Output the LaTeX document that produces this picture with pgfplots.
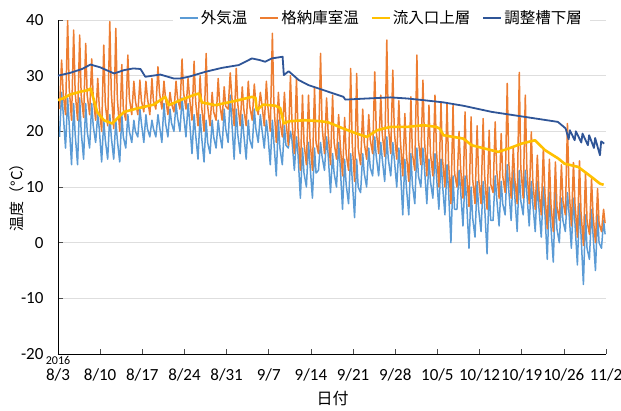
\documentclass[border=0pt]{standalone}
\usepackage{pgfplots}
\pgfplotsset{compat=1.18}
\usepackage{pgfplotstable}
\usepackage{fontspec}
\setmainfont{Carlito}
\newfontfamily\jp{Noto Sans CJK JP}
\definecolor{cOut}{HTML}{5B9BD5}
\definecolor{cRoom}{HTML}{ED7D31}
\definecolor{cIn}{HTML}{FFC000}
\definecolor{cTank}{HTML}{2F5597}

% t = days since 8/3 ; outside = 外気温 ; room = 格納庫室温
\pgfplotstableread{
t outside room
0.25 19 24
0.6 27 32.8
0.85 23.5 27
1.25 17 23
1.6 26 40
1.85 21.5 28
2.25 14 22
2.6 25 38.2
2.85 19.5 27
3.25 14 22
3.6 26 37.3
3.85 20 26.5
4.25 15 22.5
4.6 25 35.8
4.85 20 26.5
5.25 17 23
5.6 25 33
5.85 21 26
6.25 18 22
6.6 23 29.5
6.85 20.5 24.5
7.25 14.5 20
7.6 22 35.5
7.85 18.5 25
8.25 15 21
8.6 23 39.7
8.85 19 27
9.25 15 20.5
9.6 22 38.5
9.85 18.5 26
10.25 14.5 20
10.6 23 32
10.85 19 24
11.25 17 22
11.6 23 33.7
11.85 20 26
12.25 18 23
12.6 22 29
12.85 20 25.5
13.25 19 23
13.6 24 29.2
13.85 21.5 25.5
14.25 18 23.5
14.6 23 29
14.85 20.5 26
15.25 19 23
15.6 22 29.5
15.85 20.5 25.5
16.25 19 24
16.6 23 31.6
16.85 21 27
17.25 18 24
17.6 25 29
17.85 21.5 26
18.25 19 23
18.6 24 27
18.85 21.5 25
19.25 20 23.5
19.6 25 29
19.85 22.5 26
20.25 20 24
20.6 26 33
20.85 23 27
21.25 19 24
21.6 25 29.5
21.85 22 26
22.25 16 22
22.6 23 32.6
22.85 19.5 25.5
23.25 15 21
23.6 23 30
23.85 19 24.5
24.25 14.5 20
24.6 22 34
24.85 18 24.5
25.25 16 21
25.6 22 27
25.85 19 23.5
26.25 17 22
26.6 22 29.5
26.85 19.5 25
27.25 17 22
27.6 24 28
27.85 20.5 24.5
28.25 18 24
28.6 26.5 30.5
28.85 22 26.5
29.25 15 21
29.6 24 31.3
29.85 19.5 25
30.25 16 21
30.6 23 28
30.85 19.5 24
31.25 15 21
31.6 22 29
31.85 18.5 24.5
32.25 17 22
32.6 24 28.5
32.85 20.5 25
33.25 18 23
33.6 23 27
33.85 20.5 25
34.25 17 21
34.6 22 29
34.85 19.5 24.5
35.25 14 20
35.6 22 37.6
35.85 18 25
36.25 12 18
36.6 22 27
36.85 17 22
37.25 14 19
37.6 21 27
37.85 17.5 22
38.25 17 17.5
38.6 20 30
38.85 18.5 22
39.25 13 16
39.6 19 29.5
39.85 16 20.5
40.25 8 13
40.6 17 26.5
40.85 12.5 18
41.25 10 14
41.6 18 26.5
41.85 14 18.5
42.25 8 13
42.6 17 28
42.85 12.5 18
43.25 13 16
43.6 18 34
43.85 15.5 21
44.25 13 16
44.6 19 26
44.85 16 20
45.25 9 14
45.6 16 26.5
45.85 12.5 18
46.25 10 15
46.6 18 23
46.85 14 18
47.25 6 12
47.6 15 22.5
47.85 10.5 16
48.25 7 13
48.6 16 31.3
48.85 11.5 18
49.25 4.5 11
49.6 15 30.4
49.85 10 17
50.25 9 14
50.6 16 24
50.85 12.5 18
51.25 10 15
51.6 17 23
51.85 13.5 18.5
52.25 12 16
52.6 19 30.7
52.85 15.5 20
53.25 12 16
53.6 18 26.5
53.85 15 19.5
54.25 11 15.5
54.6 19 36.4
54.85 15 21
55.25 12 16
55.6 18 31
55.85 15 20
56.25 10 15
56.6 17 25.5
56.85 13.5 18.5
57.25 5 12
57.6 15 23.2
57.85 10 16
58.25 5 11
58.6 16 26.2
58.85 10.5 16
59.25 7 13
59.6 17 33.7
59.85 12 18.5
60.25 10 14
60.6 17 29.2
60.85 13.5 18.5
61.25 7 12
61.6 15 24.7
61.85 11 16
62.25 8 12
62.6 16 26.5
62.85 12 16.5
63.25 6 10
63.6 15 25.3
63.85 10.5 15
64.25 5 10
64.6 14 25
64.85 9.5 14.5
65.25 0 7
65.6 12 24.7
65.85 6 12.5
66.25 6 10
66.6 13 20
66.85 9.5 13.5
67.25 3 8
67.6 12 23.5
67.85 7.5 12.5
68.25 -1 6.5
68.6 10 22.6
68.85 4.5 11.5
69.25 1 7
69.6 11 21
69.85 6 11.5
70.25 2 7
70.6 11 22.3
70.85 6.5 12
71.25 -2 6
71.6 10 20.2
71.85 4 10.5
72.25 4 9
72.6 12 21.7
72.85 8 13
73.25 3 8
73.6 11 19.6
73.85 7 12
74.25 5 9
74.6 14 28.6
74.85 9.5 14.5
75.25 4 8
75.6 13 17
75.85 8.5 11.5
76.25 2 7
76.6 13 30.6
76.85 7.5 13.5
77.25 5 8
77.6 13 26.5
77.85 9 13.5
78.25 3 7
78.6 11 19.9
78.85 7 11
79.25 2 6
79.6 11 15.7
79.85 6.5 9.5
80.25 1 5
80.6 10 17
80.85 5.5 9
81.25 -3 2.5
81.6 9 15
81.85 3 7
82.25 -3.5 2
82.6 9 14.5
82.85 2.5 6.5
83.25 0 4
83.6 8 14
83.85 4 7.5
84.25 2 5
84.6 9 21.4
84.85 5.5 10
85.25 -1 3
85.6 8 14.4
85.85 3.5 7
86.25 -4 1
86.6 7 14.7
86.85 1.5 5.5
87.25 -7.5 -0.5
87.6 5 12.7
87.85 -1 4
88.25 -3 1.5
88.6 6 11.5
88.85 1.5 5
89.25 -5 0
89.6 5 9.7
89.85 0 3.5
90.25 -1 2
90.6 4 6
90.85 1.5 3.5
}\tempA

% 流入口上層
\pgfplotstableread{
t v
0 25.6
1 26.0
2 26.6
3 26.9
4 27.2
5 27.4
5.4 27.7
6 25.5
6.5 23.5
7.6 22
9 21.4
10 22.5
11 23.5
13.1 24.1
15.9 24.8
17.8 26.2
18.4 24.7
20.3 25.6
22.5 26.5
23.4 26.8
23.9 25.2
26.1 24.7
28.3 25.2
30 25.6
32.2 26.2
32.8 26.0
33 23.8
34.1 24.8
36.1 24.6
36.9 24.2
37.5 21.4
38.3 21.8
41 22
43.8 21.8
44.9 21.6
47.4 20.5
49.6 19.6
51.3 19
53 20.2
55.2 20.8
58 20.8
60.7 21.1
62.8 20.8
63.4 20.5
64 19.3
67.3 18.7
68.7 17.5
70.9 16.9
73.1 16.3
74.8 16.9
77 17.8
79.2 18.4
80.9 16.6
83.1 15.1
84.1 14.2
86.4 13.6
87.5 12.7
88.6 11.8
90 10.6
90.6 10.4
}\tempIn

% 調整槽下層
\pgfplotstableread{
t v
0 30
2 30.5
4 31.2
5.4 32
7 31.5
9.3 30.4
11 31
12.5 31.3
13.7 31.2
14.5 29.8
17 30.2
19.2 29.5
20.3 29.5
21.7 29.8
24.5 30.7
27.2 31.4
30 31.9
32.2 33.1
33.5 32.8
34.4 32.5
35.5 33.1
37.3 33.4
37.5 30.1
38.3 30.8
40 29.2
41.6 28.3
44.1 27.4
47.4 26.2
47.7 25.7
51.3 25.9
55.2 26.1
58 25.9
60.7 25.6
64 25.2
67.3 24.6
72 23.5
77.5 22.6
83 21.7
84 20.8
84.3 20.5
84.8 18.6
85 20.2
85.8 18.4
86 20
86.9 18
87.1 19.6
88 17.5
88.2 19.3
89 17.0
89.2 18.8
90 15.7
90.2 18.2
90.7 17.8
}\tempTank

\begin{document}
\begin{tikzpicture}
\path[use as bounding box] (-58pt,-56pt) rectangle (563pt,354pt);
\begin{axis}[
  at={(0,0)}, anchor=south west,
  scale only axis, width=548pt, height=334pt,
  xmin=0, xmax=91, ymin=-20, ymax=40,
  xtick={0,7,...,91},
  xticklabels={8/3,8/10,8/17,8/24,8/31,9/7,9/14,9/21,9/28,10/5,10/12,10/19,10/26,11/2},
  ytick={-20,-10,...,40},
  axis x line*=bottom, axis y line*=left,
  axis line style={-, black, line width=0.8pt},
  tick align=inside, major tick length=5pt,
  tick style={black!70, line width=0.6pt},
  ymajorgrids, grid style={draw=black!13, line width=1pt},
  tick label style={font=\fontsize{17}{19}\selectfont},
  /pgf/number format/assume math mode=true,
  yticklabel style={xshift=-11pt},
  xticklabel style={yshift=-11pt},
  xlabel={\jp 日付},
  xlabel style={at={(axis description cs:0.501,-0.132)}, anchor=center, font=\fontsize{16}{18}\selectfont},
  ylabel={\jp 温度（°C）},
  ylabel style={at={(axis description cs:-0.075,0.48)}, anchor=center, font=\fontsize{15}{17}\selectfont},
  legend style={at={(0.59,1.006)}, anchor=center, draw=none, fill=white,
    font=\jp\fontsize{15.5}{18}\selectfont, inner xsep=6pt, inner ysep=1pt,
    /tikz/every even column/.append style={column sep=10pt}},
  legend columns=4,
  legend image code/.code={\draw[#1, line width=2pt] (0pt,0pt) -- (18pt,0pt);},
  clip=true,
]
\addplot[cOut, line width=1.5pt, line join=round] table[x=t, y=outside] {\tempA};
\addlegendentry{外気温}
\addplot[cRoom, line width=1.5pt, line join=round] table[x=t, y=room] {\tempA};
\addlegendentry{格納庫室温}
\addplot[cIn, line width=2.6pt, line join=round] table[x=t, y=v] {\tempIn};
\addlegendentry{流入口上層}
\addplot[cTank, line width=1.8pt, line join=round] table[x=t, y=v] {\tempTank};
\addlegendentry{調整槽下層}
\end{axis}
\node[font=\fontsize{12}{13}\selectfont, anchor=center] at (0pt,-6pt) {2016};
\end{tikzpicture}
\end{document}
